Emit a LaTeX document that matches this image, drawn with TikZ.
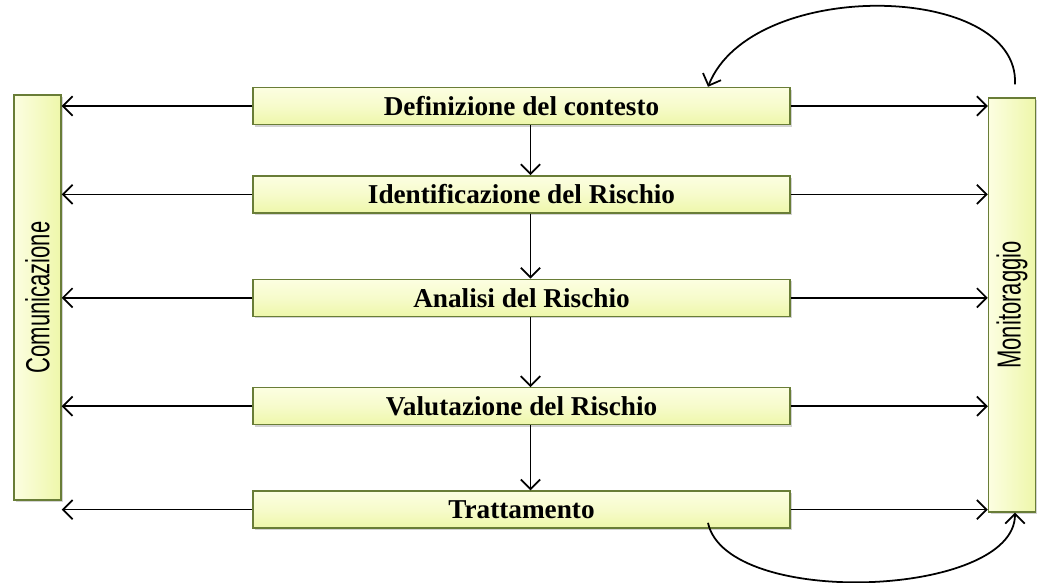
\documentclass[tikz,border=0pt]{standalone}
\usepackage{fontspec}
\setmainfont{Liberation Serif}
\newfontfamily\narrowsans[FakeStretch=0.66]{Liberation Sans}
\usetikzlibrary{%
    arrows.meta,
    calc,
    positioning,
    shadows
}
\definecolor{boxfill}{RGB}{238,247,170}
\definecolor{boxlight}{RGB}{252,254,225}
\definecolor{boxedge}{RGB}{105,125,55}
\tikzset{headarrow/.style = {-{Straight Barb[length=.55em,width=1.1em]}, line width=1pt}}
\tikzset{stepbox/.style = {draw=boxedge, line width=.8pt,
        top color=boxlight, bottom color=boxfill, middle color=boxlight!60!boxfill,
        minimum width=10.74cm, minimum height=.74cm,
        font=\fontsize{15.5}{17}\selectfont\bfseries,
        drop shadow={opacity=.35, shadow xshift=1.2pt, shadow yshift=-1.2pt}}}
\tikzset{sidebox/.style = {draw=boxedge, line width=.8pt,
        left color=boxlight, right color=boxfill,
        minimum width=.94cm,
        drop shadow={opacity=.35, shadow xshift=1.2pt, shadow yshift=-1.2pt}}}

\begin{document}
\begin{tikzpicture}
    \useasboundingbox (0,0) rectangle (20.74,11.66);

    \node[stepbox] (d1) at (10.43,9.54) {Definizione del contesto};
    \node[stepbox] (d2) [below=1cm of d1] {Identificazione del Rischio};
    \node[stepbox] (d3) [below=1.30cm of d2] {Analisi del Rischio};
    \node[stepbox] (d4) [below=1.40cm of d3] {Valutazione del Rischio};
    \node[stepbox] (d5) [below=1.30cm of d4] {Trattamento};

    \node[sidebox, minimum height=8.1cm] (com) at (0.75,5.71)
        {\rotatebox{90}{\narrowsans\fontsize{19}{21}\selectfont Comunicazione}};
    \node[sidebox, minimum height=8.28cm] (mon) at (20.24,5.56)
        {\rotatebox{90}{\narrowsans\fontsize{19}{21}\selectfont Monitoraggio}};

    \foreach \x [remember=\x as \lastx (initially 1)] in {2,3,4,5}
    \draw[headarrow] ([xshift=.18cm]d\lastx.south) -- ([xshift=.18cm]d\x.north);

    \foreach \x in {1,...,5} {
    \draw[headarrow] (d\x.west) -- (d\x.west -| com.east);
    \draw[headarrow] (d\x.east) -- (d\x.east -| mon.west);
    }

    \draw[headarrow] ([xshift=.06cm,yshift=.26cm]mon.north)
        .. controls ([xshift=.16cm,yshift=2.3cm]mon.north)
        and ([xshift=4.6cm,yshift=2.2cm]d1.north) .. ([xshift=3.73cm]d1.north);
    \draw[headarrow] ([xshift=3.73cm,yshift=.12cm]d5.south)
        .. controls ([xshift=4.1cm,yshift=-1.6cm]d5.south)
        and ([xshift=.06cm,yshift=-1.7cm]mon.south) .. ([xshift=.06cm]mon.south);
\end{tikzpicture}
\end{document}
